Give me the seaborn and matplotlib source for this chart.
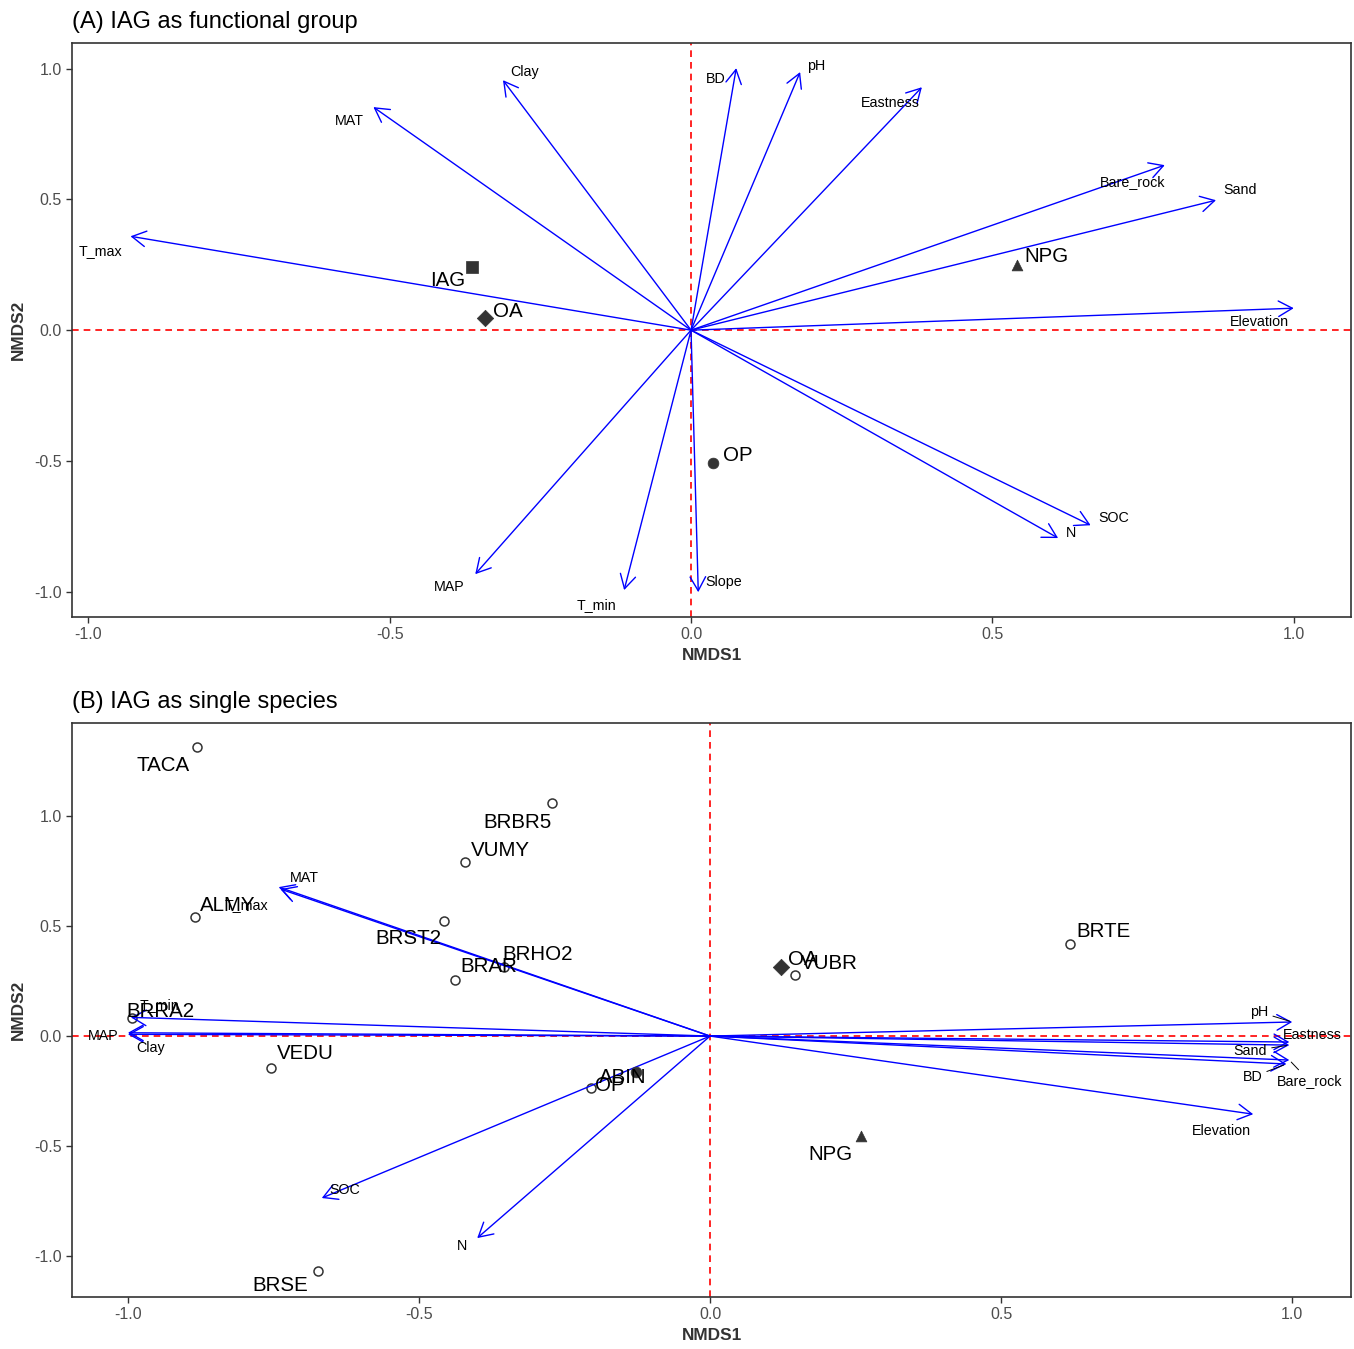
import matplotlib
matplotlib.use("Agg")
import matplotlib.pyplot as plt
import seaborn as sns
import pandas as pd

# ---------------- data ----------------
# Panel A: environmental vectors
A_vars = ['T_max', 'MAT', 'Clay', 'BD', 'pH', 'Eastness', 'Bare_rock', 'Sand',
          'Elevation', 'SOC', 'N', 'Slope', 'T_min', 'MAP']
A_vx = [-0.930, -0.527, -0.312, 0.075, 0.181, 0.383, 0.786, 0.871,
        1.000, 0.663, 0.609, 0.012, -0.111, -0.358]
A_vy = [0.359, 0.853, 0.956, 1.002, 0.987, 0.929, 0.631, 0.497,
        0.084, -0.746, -0.795, -1.002, -0.994, -0.933]
# Panel A: functional groups
A_groups = ['IAG', 'OA', 'NPG', 'OP']
A_gx = [-0.363, -0.342, 0.541, 0.036]
A_gy = [0.241, 0.046, 0.249, -0.509]

# Panel B: environmental vectors
B_vars = ['MAT', 'T_max', 'T_min', 'MAP', 'Clay', 'SOC', 'N', 'pH', 'Eastness',
          'Sand', 'BD', 'Bare_rock', 'Elevation']
B_vx = [-0.741, -0.738, -0.995, -1.000, -1.000, -0.667, -0.400, 1.000, 0.995,
        0.995, 0.990, 0.995, 0.933]
B_vy = [0.677, 0.668, 0.085, 0.015, 0.008, -0.736, -0.918, 0.064, -0.027,
        -0.041, -0.127, -0.109, -0.355]
# Panel B: species
B_species = ['TACA', 'BRBR5', 'VUMY', 'ALMY', 'BRST2', 'BRHO2', 'BRAR', 'BRRA2',
             'VEDU', 'BRSE', 'ABIN', 'VUBR', 'BRTE']
B_sx = [-0.881, -0.271, -0.421, -0.885, -0.457, -0.354, -0.438, -0.993,
        -0.754, -0.674, -0.204, 0.146, 0.619]
B_sy = [1.314, 1.059, 0.791, 0.541, 0.523, 0.314, 0.255, 0.080,
        -0.145, -1.068, -0.236, 0.277, 0.418]
# Panel B: functional groups
B_groups = ['OA', 'NPG', 'OP']
B_gx = [0.122, 0.259, -0.127]
B_gy = [0.314, -0.455, -0.164]

ticks = [-1.0, -0.5, 0.0, 0.5, 1.0]
tick_labels = ['-1.0', '-0.5', '0.0', '0.5', '1.0']

# ---------------- label placement (pixel offsets, style only) ----------------
A_var_off = [(-30, -15), (-24, -14), (22, 8), (-20, -11), (16, 6), (-32, -16),
             (-32, -17), (24, 10), (-34, -14), (23, 7), (13, 5), (25, 10),
             (-28, -15), (-26, -13)]
A_grp_off = [(-25, -13), (23, 7), (29, 9), (25, 8)]
B_var_off = [(26, 9), (-34, -16), (29, 12), (-25, -3), (23, -14), (23, 8),
             (-15, -8), (-33, 10), (23, 7), (-39, -6), (-34, -13), (20, -21),
             (-32, -17)]
B_var_leader = [False, False, False, False, False, False, False, True, False,
                True, True, True, False]
B_sp_off = [(-34, -19), (-35, -19), (35, 12), (33, 12), (-36, -18), (34, 12),
            (34, 13), (28, 7), (34, 14), (-37, -14), (31, 11), (34, 12), (33, 13)]
B_grp_off = [(22, 7), (-30, -18), (-26, -13)]
group_markers = {'IAG': 's', 'OA': 'D', 'NPG': '^', 'OP': 'o'}
group_sizes = {'IAG': 80, 'OA': 70, 'NPG': 60, 'OP': 60}

# ---------------- style ----------------
sns.set_theme(style="white")
plt.rcParams['font.family'] = ['Liberation Sans', 'DejaVu Sans']
plt.rcParams['axes.unicode_minus'] = False

DARK = '#333333'
TICKC = '#4D4D4D'
LABEL_FS = 14.8
VAR_FS = 10.3

fig = plt.figure(figsize=(13.54, 13.49), dpi=100)
axA = fig.add_axes([0.0532, 0.5426, 0.9446, 0.4255])
axB = fig.add_axes([0.0532, 0.0385, 0.9446, 0.4256])


def style_axis(ax, xlim, ylim):
    ax.set_xlim(*xlim)
    ax.set_ylim(*ylim)
    ax.set_xticks(ticks)
    ax.set_xticklabels(tick_labels)
    ax.set_yticks(ticks)
    ax.set_yticklabels(tick_labels)
    for s in ax.spines.values():
        s.set_color(DARK)
        s.set_linewidth(1.2)
    ax.tick_params(direction='out', length=4, width=1, color=DARK,
                   labelcolor=TICKC, labelsize=11.5, bottom=True, left=True)
    ax.grid(False)
    ax.axhline(0, color='red', ls=(0, (4, 3)), lw=1.2, zorder=1)
    ax.axvline(0, color='red', ls=(0, (4, 3)), lw=1.2, zorder=1)


def draw_arrows(ax, names, vx, vy, offs, leaders=None, fs=VAR_FS):
    for i, (n, x, y, o) in enumerate(zip(names, vx, vy, offs)):
        ax.annotate('', xy=(x, y), xytext=(0, 0),
                    arrowprops=dict(arrowstyle='->,head_length=0.5,head_width=0.28',
                                    color='blue', lw=1.0, mutation_scale=20,
                                    shrinkA=0, shrinkB=0), zorder=3)
        ap = None
        if leaders is not None and leaders[i]:
            ap = dict(arrowstyle='-', color='black', lw=0.7, shrinkA=1, shrinkB=2)
        ax.annotate(n, xy=(x, y), xytext=o, textcoords='offset pixels',
                    ha='center', va='center', fontsize=fs, color='black',
                    arrowprops=ap, zorder=5)


def draw_groups(ax, names, gx, gy, offs):
    df = pd.DataFrame({'x': gx, 'y': gy, 'g': names})
    for n in names:
        sub = df[df.g == n]
        sns.scatterplot(data=sub, x='x', y='y', marker=group_markers[n],
                        s=group_sizes[n], color=DARK, edgecolor=DARK,
                        linewidth=0.5, ax=ax, zorder=4, legend=False)
    for n, x, y, o in zip(names, gx, gy, offs):
        ax.annotate(n, xy=(x, y), xytext=o, textcoords='offset pixels',
                    ha='center', va='center', fontsize=LABEL_FS, color='black',
                    zorder=5)


def axis_titles(ax):
    ax.set_xlabel('NMDS1', fontsize=12.4, fontweight='bold', color=DARK, labelpad=4)
    ax.set_ylabel('NMDS2', fontsize=12.4, fontweight='bold', color=DARK, labelpad=6)


# ---------------- Panel A ----------------
style_axis(axA, (-1.027, 1.095), (-1.097, 1.098))
draw_arrows(axA, A_vars, A_vx, A_vy, A_var_off)
draw_groups(axA, A_groups, A_gx, A_gy, A_grp_off)
axis_titles(axA)
axA.set_title('(A) IAG as functional group', loc='left', fontsize=17,
              color='black', pad=11)

# ---------------- Panel B ----------------
style_axis(axB, (-1.096, 1.101), (-1.186, 1.423))
dfS = pd.DataFrame({'x': B_sx, 'y': B_sy, 'sp': B_species})
sns.scatterplot(data=dfS, x='x', y='y', marker='o', s=42, color='white',
                edgecolor=DARK, linewidth=1.1, ax=axB, zorder=2, legend=False)
for n, x, y, o in zip(B_species, B_sx, B_sy, B_sp_off):
    axB.annotate(n, xy=(x, y), xytext=o, textcoords='offset pixels',
                 ha='center', va='center', fontsize=LABEL_FS, color='black',
                 zorder=5)
draw_arrows(axB, B_vars, B_vx, B_vy, B_var_off, leaders=B_var_leader)
draw_groups(axB, B_groups, B_gx, B_gy, B_grp_off)
axis_titles(axB)
axB.set_title('(B) IAG as single species', loc='left', fontsize=17,
              color='black', pad=11)

fig.savefig('out.png', dpi=100, facecolor='white')
